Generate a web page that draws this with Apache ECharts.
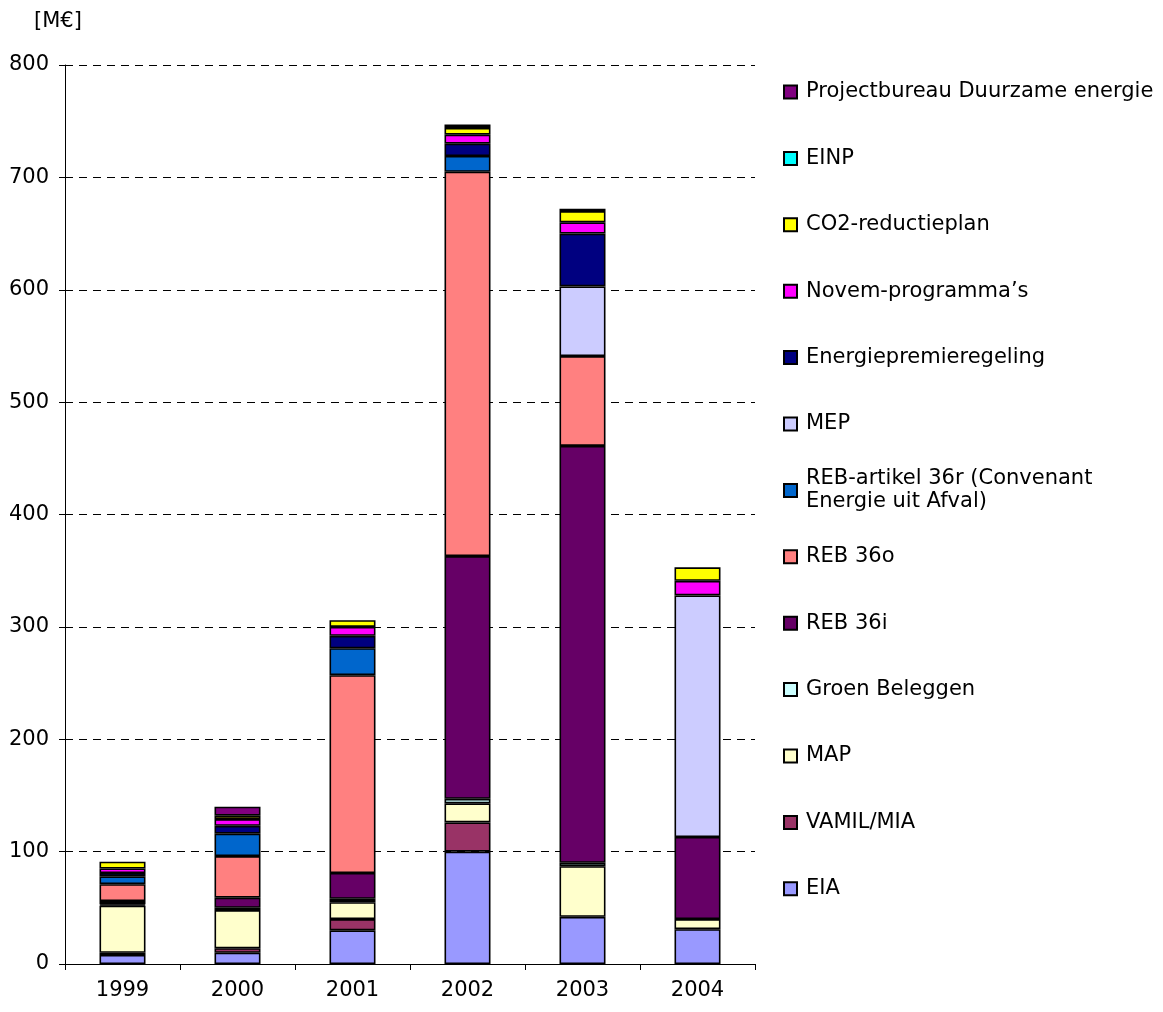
<!DOCTYPE html>
<html>
<head>
<meta charset="utf-8">
<style>
  html, body { margin: 0; padding: 0; background: #fff; }
  #chart { width: 1163px; height: 1012px; }
</style>
<script src="https://cdn.jsdelivr.net/npm/echarts@6/dist/echarts.min.js"></script>
</head>
<body>
<div id="chart"></div>
<script>
// Years on the category axis
const years = ['1999', '2000', '2001', '2002', '2003', '2004'];

// Budget per scheme, in M€ (null = no contribution that year)
const eia            = [8, 10, 30, 100, 42, 31];
const vamilMia       = [2, 4, 10, 26, null, null];
const map            = [42, 34, 15, 17, 45, 9];
const groenBeleggen  = [1, 2, 3, 4, 3, null];
const reb36i         = [3, 9, 23, 216, 371, 73];
const reb36o         = [15, 37, 176, 342, 80, null];
const reb36r         = [7, 20, 24, 14, null, null];
const mep            = [null, null, null, null, 62, 215];
const energiepremie  = [3, 7, 11, 11, 47, null];
const novem          = [4, 6, 8, 8, 10, 13];
const co2Reductie    = [6, 3, 6, 6, 10, 12];
const einp           = [null, null, null, null, null, null];
const projectbureau  = [null, 8, null, 3, 2, null];

// Y axis ticks
const yTicks = [0, 100, 200, 300, 400, 500, 600, 700, 800];

// Stack order, bottom to top
const stackSeries = [
  { name: 'EIA', data: eia, color: '#9999FF' },
  { name: 'VAMIL/MIA', data: vamilMia, color: '#993366' },
  { name: 'MAP', data: map, color: '#FFFFCC' },
  { name: 'Groen Beleggen', data: groenBeleggen, color: '#CCFFFF' },
  { name: 'REB 36i', data: reb36i, color: '#660066' },
  { name: 'REB 36o', data: reb36o, color: '#FF8080' },
  { name: 'REB-artikel 36r (Convenant Energie uit Afval)', data: reb36r, color: '#0066CC' },
  { name: 'MEP', data: mep, color: '#CCCCFF' },
  { name: 'Energiepremieregeling', data: energiepremie, color: '#000080' },
  { name: 'Novem-programma\u2019s', data: novem, color: '#FF00FF' },
  { name: 'CO2-reductieplan', data: co2Reductie, color: '#FFFF00' },
  { name: 'EINP', data: einp, color: '#00FFFF' },
  { name: 'Projectbureau Duurzame energie', data: projectbureau, color: '#800080' }
];

const FONT = 'DejaVu Sans';
const LINE_H = 23;

// Legend runs top to bottom in reverse stack order, one entry per row
const legendOrder = stackSeries.slice().reverse();
const legends = legendOrder.map(function (s, i) {
  const centerY = 92 + i * 66.4;
  const twoLine = s.name.indexOf('Convenant') >= 0;
  return {
    orient: 'vertical',
    left: 783,
    top: twoLine ? centerY - 1.5 * LINE_H : centerY - LINE_H / 2,
    padding: 0,
    data: [s.name],
    icon: 'rect',
    itemWidth: 13,
    itemHeight: 13,
    selectedMode: false,
    formatter: twoLine ? function () { return 'REB-artikel 36r (Convenant\nEnergie uit Afval)'; } : undefined,
    textStyle: {
      fontFamily: FONT,
      fontSize: 21,
      color: '#000',
      lineHeight: LINE_H,
      padding: twoLine ? [LINE_H, 0, 0, 4] : [0, 0, 0, 4]
    }
  };
});

const chart = echarts.init(document.getElementById('chart'), null, { renderer: 'canvas' });

chart.setOption({
  animation: false,
  backgroundColor: '#fff',
  grid: { left: 65, right: 408, top: 65, bottom: 48, containLabel: false },
  legend: legends,
  graphic: [{
    type: 'text',
    left: 34,
    top: 11,
    style: { text: '[M\u20AC]', fontFamily: FONT, fontSize: 21, fill: '#000' }
  }],
  xAxis: {
    type: 'category',
    data: years,
    boundaryGap: true,
    axisLine: { lineStyle: { color: '#000', width: 1 } },
    axisTick: { show: true, length: 6, lineStyle: { color: '#000' } },
    axisLabel: { color: '#000', fontFamily: FONT, fontSize: 21, margin: 16 }
  },
  yAxis: {
    type: 'value',
    min: yTicks[0],
    max: yTicks[yTicks.length - 1],
    interval: 100,
    axisLine: { show: true, lineStyle: { color: '#000', width: 1 } },
    axisTick: { show: true, length: 6, lineStyle: { color: '#000' } },
    axisLabel: { color: '#000', fontFamily: FONT, fontSize: 21, margin: 16 },
    splitLine: { show: true, lineStyle: { color: '#000', width: 1, type: [8, 6] } }
  },
  series: stackSeries.map(function (s) {
    return {
      name: s.name,
      type: 'bar',
      stack: 'total',
      barWidth: 46,
      data: s.data,
      itemStyle: { color: s.color, borderColor: '#000', borderWidth: 1.6 },
      emphasis: { disabled: true }
    };
  })
});
</script>
</body>
</html>
